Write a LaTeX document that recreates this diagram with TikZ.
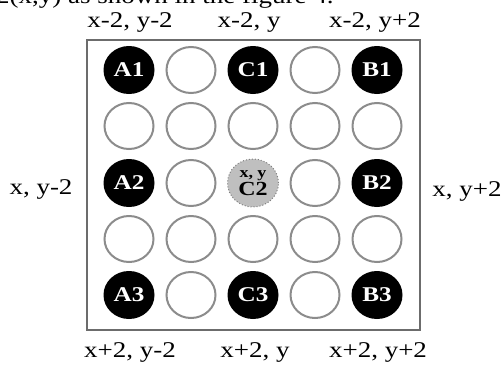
\documentclass[tikz,border=0pt]{standalone}
\usepackage{fontspec}
\setmainfont{Liberation Serif}
\usepackage{graphicx}
\usetikzlibrary{shapes.geometric}
\newcommand\hstretch[1]{\scalebox{1.2}[1]{#1}}
\begin{document}
\begin{tikzpicture}[x=1pt,y=-1pt,
  hole/.style={ellipse, minimum width=49pt, minimum height=46pt, inner sep=0pt, draw=gray!90, line width=2pt, fill=white},
  pin/.style={ellipse, minimum width=51pt, minimum height=48pt, inner sep=0pt, fill=black, text=white, font=\fontsize{21}{21}\selectfont\bfseries},
  focus/.style={ellipse, minimum width=51pt, minimum height=48pt, inner sep=0pt, fill=gray!50, draw=gray, dotted, line width=1pt, align=center, font=\fontsize{20}{20}\selectfont\bfseries},
  lbl/.style={font=\fontsize{22.5}{24}\selectfont, anchor=base, inner sep=0pt},
  boardbox/.style={draw=gray!85!black, line width=1.6pt, minimum width=333pt, minimum height=290pt, inner sep=0pt}]
\useasboundingbox (0,0) rectangle (502,364);
\clip (0,0) rectangle (502,364);
\node[lbl, anchor=base west] (cap) at (-4,3) {\hstretch{2(x,y) as shown in the figure 4.}};
\node[boardbox] (board) at (253.5,185) {};
% row 1
\node[pin]  (A1)  at (129,70) {\hstretch{A1}};
\node[hole] (h12) at (191,70) {};
\node[pin]  (C1)  at (253,70) {\hstretch{C1}};
\node[hole] (h14) at (315,70) {};
\node[pin]  (B1)  at (377,70) {\hstretch{B1}};
% row 2
\node[hole] (h21) at (129,126) {};
\node[hole] (h22) at (191,126) {};
\node[hole] (h23) at (253,126) {};
\node[hole] (h24) at (315,126) {};
\node[hole] (h25) at (377,126) {};
% row 3
\node[pin]  (A2)  at (129,183) {\hstretch{A2}};
\node[hole] (h32) at (191,183) {};
\node[focus] (C2) at (253,183) {\hstretch{{\fontsize{15}{13}\selectfont x, y}}\\[-2pt]\hstretch{C2}};
\node[hole] (h34) at (315,183) {};
\node[pin]  (B2)  at (377,183) {\hstretch{B2}};
% row 4
\node[hole] (h41) at (129,239) {};
\node[hole] (h42) at (191,239) {};
\node[hole] (h43) at (253,239) {};
\node[hole] (h44) at (315,239) {};
\node[hole] (h45) at (377,239) {};
% row 5
\node[pin]  (A3)  at (129,295) {\hstretch{A3}};
\node[hole] (h52) at (191,295) {};
\node[pin]  (C3)  at (253,295) {\hstretch{C3}};
\node[hole] (h54) at (315,295) {};
\node[pin]  (B3)  at (377,295) {\hstretch{B3}};
% labels
\node[lbl] (tA) at (130,27) {\hstretch{x-2, y-2}};
\node[lbl] (tC) at (249,27) {\hstretch{x-2, y}};
\node[lbl] (tB) at (375,27) {\hstretch{x-2, y+2}};
\node[lbl] (lA) at (41,194) {\hstretch{x, y-2}};
\node[lbl] (rB) at (467,196) {\hstretch{x, y+2}};
\node[lbl] (bA) at (130,357) {\hstretch{x+2, y-2}};
\node[lbl] (bC) at (255,357) {\hstretch{x+2, y}};
\node[lbl] (bB) at (378,357) {\hstretch{x+2, y+2}};
\end{tikzpicture}
\end{document}
